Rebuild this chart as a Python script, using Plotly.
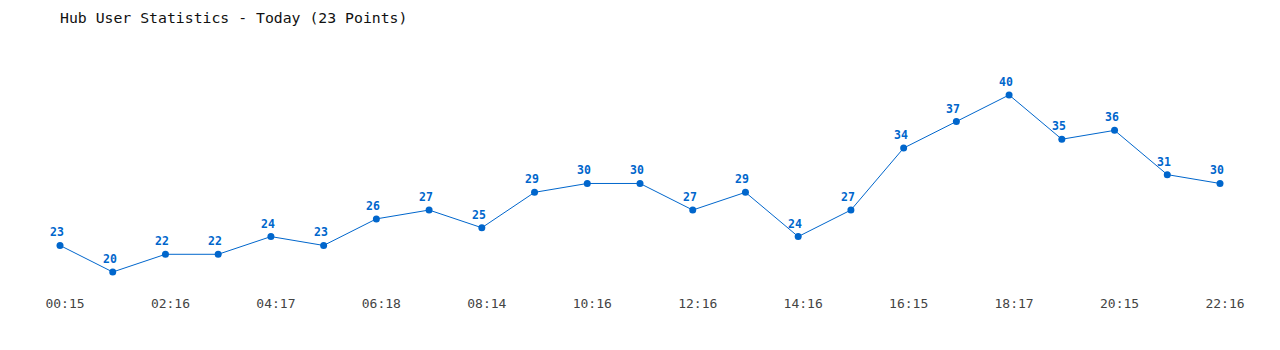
import plotly.graph_objects as go

title_text = "Hub User Statistics - Today (23 Points)"
users = [23, 20, 22, 22, 24, 23, 26, 27, 25, 29, 30, 30, 27, 29, 24, 27, 34, 37, 40, 35, 36, 31, 30]
tick_labels = ["00:15", "02:16", "04:17", "06:18", "08:14", "10:16",
               "12:16", "14:16", "16:15", "18:17", "20:15", "22:16"]
tick_positions = list(range(0, len(users), 2))
x = list(range(len(users)))

color = "#0066CC"
mono = "DejaVu Sans Mono, Liberation Mono, monospace"

fig = go.Figure(go.Scatter(
    x=x, y=users, mode="lines+markers",
    line=dict(color=color, width=1),
    marker=dict(color=color, size=7),
    cliponaxis=False, hoverinfo="skip",
))

for xi, v in zip(x, users):
    fig.add_annotation(x=xi, y=v, text=str(v), showarrow=False,
                       xshift=-3, yshift=13, yanchor="middle",
                       font=dict(family=mono, size=11.5, color=color, weight="bold"))

fig.update_layout(
    width=1280, height=350,
    margin=dict(l=60, r=60, t=50, b=58),
    paper_bgcolor="white", plot_bgcolor="white",
    showlegend=False,
    title=dict(text=title_text, x=60/1280, xref="container", xanchor="left",
               y=1-18/350, yref="container", yanchor="middle",
               font=dict(family=mono, size=14.8, color="#111")),
    xaxis=dict(range=[0, 22], tickvals=tick_positions, ticktext=tick_labels,
               showgrid=False, zeroline=False, showline=False, ticks="",
               ticklabelshift=5, ticklabelstandoff=2,
               tickfont=dict(family=mono, size=13, color="#444"), fixedrange=True),
    yaxis=dict(range=[17.74, 45.08], showgrid=False, zeroline=False,
               showline=False, showticklabels=False, ticks="", fixedrange=True),
)

fig.write_html("out.html")
